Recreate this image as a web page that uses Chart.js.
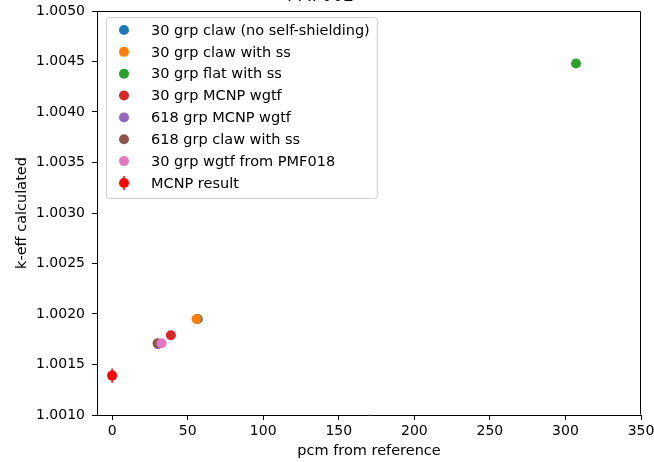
<!DOCTYPE html>
<html>
<head>
<meta charset="utf-8">
<script src="https://cdn.jsdelivr.net/npm/chart.js@4/dist/chart.umd.min.js"></script>
<style>
  html, body { margin: 0; padding: 0; background: #fff; }
  #wrap { position: relative; width: 654px; height: 462px; overflow: hidden; }
  #c { position: absolute; left: 0; top: -20px; width: 654px; height: 482px; }
</style>
</head>
<body>
<div id="wrap"><canvas id="c" width="654" height="482"></canvas></div>
<script>
// ---- data ----
const chartTitle = 'PMF002';
const seriesLabels = [
  '30 grp claw (no self-shielding)',
  '30 grp claw with ss',
  '30 grp flat with ss',
  '30 grp MCNP wgtf',
  '618 grp MCNP wgtf',
  '618 grp claw with ss',
  '30 grp wgtf from PMF018'
];
const pcmFromReference = [56.7, 55.9, 307.0, 38.9, 30.3, 30.1, 32.7];
const keffCalculated  = [1.00195, 1.00195, 1.00448, 1.00179, 1.00170, 1.00171, 1.00171];
const mcnpLabel = 'MCNP result';
const mcnpPcm = [0];
const mcnpKeff = [1.00139];
const mcnpErr = [0.00007];
const xTicks = [0, 50, 100, 150, 200, 250, 300, 350];
const yTicks = [1.0010, 1.0015, 1.0020, 1.0025, 1.0030, 1.0035, 1.0040, 1.0045, 1.0050];

// ---- styles ----
const palette = ['#1f77b4', '#ff7f0e', '#2ca02c', '#d62728', '#9467bd', '#8c564b', '#e377c2'];
const mcnpColor = '#ff0000';
const FONT = 'DejaVu Sans';
const font14 = { family: FONT, size: 14 };
const fontLbl = { family: FONT, size: 14.5 };

const datasets = seriesLabels.map((lab, i) => ({
  label: lab,
  data: [{ x: pcmFromReference[i], y: keffCalculated[i] }],
  backgroundColor: palette[i],
  borderWidth: 0,
  pointRadius: 5,
  order: 100 - i
}));
datasets.push({
  label: mcnpLabel,
  data: mcnpPcm.map((x, i) => ({ x: x, y: mcnpKeff[i] })),
  backgroundColor: mcnpColor,
  borderWidth: 0,
  pointRadius: 5,
  order: 0,
  errors: mcnpErr
});

const errorBarPlugin = {
  id: 'errorBars',
  beforeDatasetsDraw(chart) {
    const ctx = chart.ctx, xs = chart.scales.x, ys = chart.scales.y;
    chart.data.datasets.forEach(ds => {
      if (!ds.errors) return;
      ctx.save();
      ctx.strokeStyle = ds.backgroundColor;
      ctx.lineWidth = 1.5;
      ds.data.forEach((p, i) => {
        const px = xs.getPixelForValue(p.x);
        const y1 = ys.getPixelForValue(p.y - ds.errors[i]);
        const y2 = ys.getPixelForValue(p.y + ds.errors[i]);
        ctx.beginPath(); ctx.moveTo(px, y1); ctx.lineTo(px, y2); ctx.stroke();
      });
      ctx.restore();
    });
  }
};

const frameAndLegendPlugin = {
  id: 'frameLegend',
  afterDraw(chart) {
    const ctx = chart.ctx, ca = chart.chartArea;
    ctx.save();
    // top and right spines
    ctx.strokeStyle = '#000';
    ctx.lineWidth = 1;
    const L = Math.round(ca.left) + 0.5, R = Math.round(ca.right) - 0.5;
    const T = Math.round(ca.top) + 0.5, B = Math.round(ca.bottom) - 0.5;
    ctx.beginPath();
    ctx.moveTo(L, T); ctx.lineTo(R, T); ctx.lineTo(R, B);
    ctx.stroke();

    // legend box (inside plot, upper left)
    ctx.font = '14.5px "' + FONT + '"';
    const items = chart.data.datasets.map(ds => ({ label: ds.label, color: ds.backgroundColor, err: !!ds.errors }));
    let maxW = 0;
    items.forEach(it => { maxW = Math.max(maxW, ctx.measureText(it.label).width); });
    const bx = ca.left + 9, by = ca.top + 6;
    const textX = 45, rowH = 21.85, firstRow = 13;
    const bw = textX + maxW + 7;
    const bh = firstRow + rowH * (items.length - 1) + 15;
    ctx.beginPath();
    if (ctx.roundRect) ctx.roundRect(bx + 0.5, by + 0.5, bw, bh, 3);
    else ctx.rect(bx + 0.5, by + 0.5, bw, bh);
    ctx.fillStyle = 'rgba(255,255,255,0.8)';
    ctx.fill();
    ctx.strokeStyle = '#cccccc';
    ctx.lineWidth = 1;
    ctx.stroke();
    ctx.textBaseline = 'middle';
    ctx.textAlign = 'left';
    items.forEach((it, i) => {
      const cy = by + firstRow + rowH * i;
      const mx = bx + 18;
      if (it.err) {
        ctx.strokeStyle = it.color; ctx.lineWidth = 1.5;
        ctx.beginPath(); ctx.moveTo(mx, cy - 7); ctx.lineTo(mx, cy + 7); ctx.stroke();
      }
      ctx.fillStyle = it.color;
      ctx.beginPath(); ctx.arc(mx, cy, 5, 0, Math.PI * 2); ctx.fill();
      ctx.fillStyle = '#000';
      ctx.fillText(it.label, bx + textX, cy + 1);
    });
    ctx.restore();
  }
};

new Chart(document.getElementById('c'), {
  type: 'scatter',
  data: { datasets: datasets },
  options: {
    responsive: false,
    animation: false,
    events: [],
    layout: { padding: { top: 4, right: 13, bottom: 0, left: 0 } },
    plugins: {
      legend: { display: false },
      tooltip: { enabled: false },
      title: {
        display: true, text: chartTitle, color: '#000',
        font: { family: FONT, size: 17, weight: 'normal' },
        padding: { top: 2, bottom: 4.6 }
      }
    },
    scales: {
      x: {
        type: 'linear', min: -10, max: 350,
        afterBuildTicks: s => { s.ticks = xTicks.map(v => ({ value: v })); },
        afterFit: s => { s.height = 47; s.paddingLeft = 0; s.paddingRight = 0; },
        ticks: { font: font14, color: '#000', padding: 3, maxRotation: 0, autoSkip: false },
        grid: { drawOnChartArea: false, drawTicks: true, tickLength: 5, color: '#000' },
        border: { color: '#000', width: 1 },
        title: { display: true, text: 'pcm from reference', font: fontLbl, color: '#000', padding: 2 }
      },
      y: {
        type: 'linear', min: 1.0010, max: 1.0050,
        afterBuildTicks: s => { s.ticks = yTicks.map(v => ({ value: v })); },
        afterFit: s => { s.width = 97; s.paddingTop = 0; s.paddingBottom = 0; },
        ticks: { font: font14, color: '#000', padding: 7, autoSkip: false, callback: v => Number(v).toFixed(4) },
        grid: { drawOnChartArea: false, drawTicks: true, tickLength: 5, color: '#000' },
        border: { color: '#000', width: 1 },
        title: { display: true, text: 'k-eff calculated', font: fontLbl, color: '#000', padding: 13.4 }
      }
    }
  },
  plugins: [errorBarPlugin, frameAndLegendPlugin]
});
</script>
</body>
</html>
